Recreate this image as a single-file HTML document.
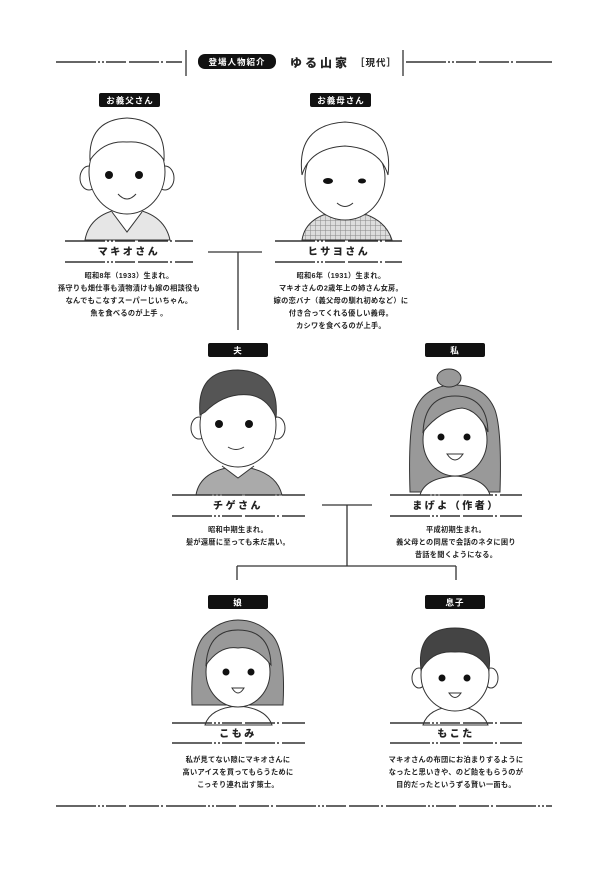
<!DOCTYPE html>
<html><head><meta charset="utf-8"><style>
html,body{margin:0;padding:0;background:#fff}
body{width:615px;height:873px;overflow:hidden}
svg{display:block}
text{font-family:"Liberation Sans","Noto Sans CJK JP",sans-serif;fill:#222}
.d{font-size:7.2px;font-weight:bold;text-anchor:middle;letter-spacing:.3px}
.n{font-size:10px;font-weight:900;text-anchor:middle;letter-spacing:2.5px}
.b{font-size:8.5px;font-weight:bold;fill:#fff;text-anchor:middle;letter-spacing:1px}
.dl{stroke:#333;stroke-width:1.6;stroke-dasharray:40 2 2 2 2 2 20 3 30 2 2 3;fill:none}
.ln{stroke:#333;stroke-width:1.3;fill:none}
.o{stroke:#333;stroke-width:1;fill:#fff}
</style></head><body>
<svg width="615" height="873" viewBox="0 0 615 873">
<defs>
<pattern id="chk" width="5" height="5" patternUnits="userSpaceOnUse"><rect width="5" height="5" fill="#ddd"/><path d="M0 0H5M0 0V5" stroke="#888" stroke-width="1"/></pattern>
</defs>
<!-- title -->
<line x1="56" y1="62" x2="182" y2="62" class="dl"/>
<line x1="186" y1="50" x2="186" y2="76" class="ln"/>
<rect x="198" y="54" width="78" height="15" rx="7" fill="#111"/>
<text x="237" y="65" class="b" style="font-size:8.5px">登場人物紹介</text>
<text x="290" y="67" style="font-size:12px;font-weight:900;letter-spacing:3px">ゆる山家</text>
<text x="355" y="66" style="font-size:9.5px;font-weight:bold;letter-spacing:1px">［現代］</text>
<line x1="403" y1="50" x2="403" y2="76" class="ln"/>
<line x1="406" y1="62" x2="552" y2="62" class="dl"/>

<!-- badges -->
<rect x="99" y="93" width="61" height="14" rx="2" fill="#111"/><text x="130" y="103.5" class="b">お義父さん</text>
<rect x="310" y="93" width="61" height="14" rx="2" fill="#111"/><text x="341" y="103.5" class="b">お義母さん</text>
<rect x="208" y="343" width="60" height="14" rx="2" fill="#111"/><text x="238" y="353.5" class="b">夫</text>
<rect x="425" y="343" width="60" height="14" rx="2" fill="#111"/><text x="455" y="353.5" class="b">私</text>
<rect x="208" y="595" width="60" height="14" rx="2" fill="#111"/><text x="238" y="605.5" class="b">娘</text>
<rect x="425" y="595" width="60" height="14" rx="2" fill="#111"/><text x="455" y="605.5" class="b">息子</text>

<!-- father -->
<g>
<path d="M85 240 Q90 212 127 208 Q164 212 170 240Z" fill="#e6e6e6" stroke="#333"/>
<path d="M112 212 L127 232 L142 212" class="o"/>
<ellipse cx="89" cy="178" rx="9" ry="12" class="o"/><ellipse cx="165" cy="178" rx="9" ry="12" class="o"/>
<ellipse cx="127" cy="172" rx="38" ry="42" class="o"/>
<path d="M90 160 Q88 120 127 118 Q166 120 164 160 Q150 140 127 142 Q104 140 90 160Z" class="o"/>
<circle cx="109" cy="175" r="4" fill="#111"/><circle cx="139" cy="175" r="4" fill="#111"/>
<path d="M118 194 Q127 204 136 194" class="o"/>
</g>
<!-- mother -->
<g>
<path d="M302 240 Q306 214 345 210 Q384 214 392 240Z" fill="url(#chk)" stroke="#333"/>
<ellipse cx="345" cy="178" rx="40" ry="42" class="o"/>
<path d="M302 175 Q296 125 345 122 Q394 125 388 175 Q380 148 345 146 Q310 148 302 175Z" class="o"/>
<ellipse cx="328" cy="181" rx="5" ry="3" fill="#111"/><ellipse cx="362" cy="181" rx="4" ry="2.5" fill="#111"/>
<path d="M337 203 Q345 210 353 203" class="o"/>
</g>
<!-- husband -->
<g>
<path d="M196 495 Q200 470 238 466 Q276 470 282 495Z" fill="#aaa" stroke="#333"/>
<path d="M222 466 L238 478 L254 466" class="o"/>
<ellipse cx="199" cy="428" rx="8" ry="11" class="o"/><ellipse cx="277" cy="428" rx="8" ry="11" class="o"/>
<ellipse cx="238" cy="425" rx="38" ry="42" class="o"/>
<path d="M200 415 Q196 370 238 370 Q280 372 276 418 Q268 398 250 395 Q225 392 205 412Z" fill="#555" stroke="#333"/>
<circle cx="219" cy="424" r="4" fill="#111"/><circle cx="249" cy="424" r="4" fill="#111"/>
<path d="M228 447 Q236 452 244 447" class="o"/>
</g>
<!-- me -->
<g>
<path d="M410 492 Q408 430 415 410 Q425 385 455 385 Q485 385 495 410 Q502 430 500 492Z" fill="#999" stroke="#333"/>
<ellipse cx="449" cy="378" rx="12" ry="9" fill="#999" stroke="#333"/>
<path d="M420 495 Q425 478 455 476 Q485 478 490 495Z" class="o"/>
<ellipse cx="455" cy="440" rx="32" ry="36" class="o"/>
<path d="M423 432 Q425 396 455 396 Q487 396 488 432 Q478 410 462 408 Q440 410 423 432Z" fill="#999" stroke="#333"/>
<circle cx="441" cy="437" r="3.5" fill="#111"/><circle cx="467" cy="437" r="3.5" fill="#111"/>
<path d="M447 454 Q455 466 463 454Z" class="o"/>
</g>
<!-- daughter -->
<g>
<path d="M192 705 Q190 650 205 635 Q220 620 238 620 Q258 620 272 635 Q286 650 283 705Z" fill="#999" stroke="#333"/>
<path d="M205 725 Q210 708 238 706 Q266 708 272 725Z" class="o"/>
<ellipse cx="238" cy="672" rx="32" ry="35" class="o"/>
<path d="M206 665 Q208 630 238 630 Q270 630 271 665 Q255 645 238 648 Q220 645 206 665Z" fill="#999" stroke="#333"/>
<circle cx="226" cy="672" r="3.5" fill="#111"/><circle cx="251" cy="672" r="3.5" fill="#111"/>
<path d="M232 688 Q238 698 244 688Z" class="o"/>
</g>
<!-- son -->
<g>
<path d="M423 725 Q428 708 455 706 Q482 708 488 725Z" class="o"/>
<ellipse cx="419" cy="678" rx="7" ry="10" class="o"/><ellipse cx="491" cy="678" rx="7" ry="10" class="o"/>
<ellipse cx="455" cy="675" rx="34" ry="36" class="o"/>
<path d="M421 670 Q416 628 455 628 Q494 628 489 670 Q478 650 455 652 Q432 650 421 670Z" fill="#444" stroke="#333"/>
<circle cx="442" cy="678" r="3.5" fill="#111"/><circle cx="467" cy="678" r="3.5" fill="#111"/>
<path d="M449 693 Q455 702 461 693Z" class="o"/>
</g>

<!-- name bars -->
<line x1="65" y1="241" x2="193" y2="241" class="dl"/><line x1="65" y1="262" x2="193" y2="262" class="dl"/>
<text x="129" y="255" class="n">マキオさん</text>
<line x1="275" y1="241" x2="402" y2="241" class="dl"/><line x1="275" y1="262" x2="402" y2="262" class="dl"/>
<text x="339" y="255" class="n">ヒサヨさん</text>
<line x1="172" y1="495" x2="305" y2="495" class="dl"/><line x1="172" y1="516" x2="305" y2="516" class="dl"/>
<text x="238" y="509" class="n">チゲさん</text>
<line x1="390" y1="495" x2="522" y2="495" class="dl"/><line x1="390" y1="516" x2="522" y2="516" class="dl"/>
<text x="456" y="509" class="n">まげよ（作者）</text>
<line x1="172" y1="723" x2="305" y2="723" class="dl"/><line x1="172" y1="743" x2="305" y2="743" class="dl"/>
<text x="238" y="737" class="n">こもみ</text>
<line x1="390" y1="723" x2="522" y2="723" class="dl"/><line x1="390" y1="743" x2="522" y2="743" class="dl"/>
<text x="456" y="737" class="n">もこた</text>

<!-- connectors -->
<path d="M208 252H262M238 252V330" class="ln"/>
<path d="M322 505H372M347 505V566M237 566H456M237 566V580M456 566V580" class="ln"/>

<!-- descriptions -->
<text class="d"><tspan x="129" y="278">昭和8年（1933）生まれ。</tspan><tspan x="129" y="290.5">孫守りも畑仕事も漬物漬けも嫁の相談役も</tspan><tspan x="129" y="303">なんでもこなすスーパーじいちゃん。</tspan><tspan x="129" y="315.5">魚を食べるのが上手 。</tspan></text>
<text class="d"><tspan x="341" y="278">昭和6年（1931）生まれ。</tspan><tspan x="341" y="290.5">マキオさんの2歳年上の姉さん女房。</tspan><tspan x="341" y="303">嫁の恋バナ（義父母の馴れ初めなど）に</tspan><tspan x="341" y="315.5">付き合ってくれる優しい義母。</tspan><tspan x="341" y="328">カシワを食べるのが上手。</tspan></text>
<text class="d"><tspan x="238" y="532">昭和中期生まれ。</tspan><tspan x="238" y="544.5">髪が還暦に至っても未だ黒い。</tspan></text>
<text class="d"><tspan x="456" y="532">平成初期生まれ。</tspan><tspan x="456" y="544.5">義父母との同居で会話のネタに困り</tspan><tspan x="456" y="557">昔話を聞くようになる。</tspan></text>
<text class="d"><tspan x="238" y="762">私が見てない隙にマキオさんに</tspan><tspan x="238" y="774.5">高いアイスを買ってもらうために</tspan><tspan x="238" y="787">こっそり連れ出す策士。</tspan></text>
<text class="d"><tspan x="456" y="762">マキオさんの布団にお泊まりするように</tspan><tspan x="456" y="774.5">なったと思いきや、のど飴をもらうのが</tspan><tspan x="456" y="787">目的だったというずる賢い一面も。</tspan></text>

<line x1="56" y1="806" x2="552" y2="806" class="dl"/>
</svg>
</body></html>
